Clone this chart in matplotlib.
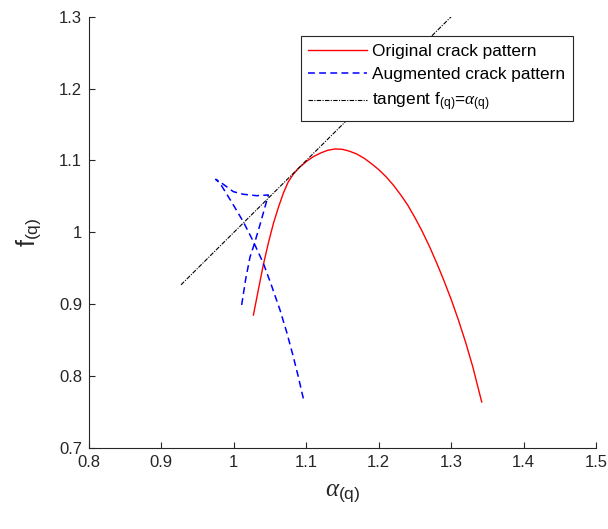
import matplotlib
matplotlib.use("Agg")
import matplotlib.pyplot as plt

plt.rcParams["font.family"] = ["Liberation Sans", "DejaVu Sans"]
plt.rcParams["mathtext.fontset"] = "custom"
plt.rcParams["mathtext.rm"] = "Liberation Sans"
plt.rcParams["mathtext.it"] = "Liberation Serif:italic"
plt.rcParams["mathtext.bf"] = "Liberation Sans:bold"

# Multifractal spectrum of the original crack pattern
orig_alpha = [1.027, 1.034, 1.0407, 1.0476, 1.0545, 1.0614, 1.0683, 1.075,
              1.082, 1.090, 1.100, 1.110, 1.120, 1.130, 1.140, 1.150, 1.160,
              1.170, 1.180, 1.190, 1.200, 1.210, 1.220, 1.230, 1.240, 1.250,
              1.260, 1.270, 1.280, 1.290, 1.300, 1.310, 1.320, 1.330, 1.3422]
orig_f = [0.885, 0.921, 0.955, 0.985, 1.012, 1.0345, 1.0545, 1.0700,
          1.0808, 1.0898, 1.0985, 1.1055, 1.1105, 1.1143, 1.1160, 1.1155, 1.1128,
          1.1088, 1.1030, 1.0955, 1.0873, 1.0775, 1.0660, 1.0527, 1.0380, 1.0205,
          1.0015, 0.9805, 0.9575, 0.9330, 0.9068, 0.8782, 0.8470, 0.8125, 0.7640]

# Spectrum of the augmented crack pattern (swallowtail shape)
aug_alpha = [1.0108, 1.0161, 1.0223, 1.0278, 1.0368, 1.0476,
             1.0315, 1.013, 0.9993, 0.9854, 0.975,
             0.9809, 0.997, 1.013, 1.027, 1.0407, 1.052, 1.0637, 1.073,
             1.0821, 1.089, 1.0959]
aug_f = [0.899, 0.9337, 0.9657, 0.9824, 1.013, 1.052,
         1.051, 1.053, 1.0566, 1.0669, 1.0738,
         1.0683, 1.042, 1.0148, 0.987, 0.957, 0.926, 0.892, 0.861,
         0.827, 0.799, 0.769]

# Tangent line f(q) = alpha(q)
tangent_alpha = [0.927, 1.300]
tangent_f = [0.927, 1.300]

x_ticks = [0.8, 0.9, 1.0, 1.1, 1.2, 1.3, 1.4, 1.5]
x_ticklabels = ["0.8", "0.9", "1", "1.1", "1.2", "1.3", "1.4", "1.5"]
y_ticks = [0.7, 0.8, 0.9, 1.0, 1.1, 1.2, 1.3]
y_ticklabels = ["0.7", "0.8", "0.9", "1", "1.1", "1.2", "1.3"]

fig = plt.figure(figsize=(6.08, 5.29), dpi=100)
ax = fig.add_axes([89 / 608, 1 - 448 / 529, (596 - 89) / 608, (448 - 16.7) / 529])

ax.plot(orig_alpha, orig_f, color="#ff0000", lw=1.0,
        label="Original crack pattern")
ax.plot(aug_alpha, aug_f, color="#0000ff", lw=1.1, linestyle=(0, (4.5, 2.8)),
        label="Augmented crack pattern")
ax.plot(tangent_alpha, tangent_f, color="black", lw=0.8,
        linestyle=(0, (4, 1.2, 1, 1.2)),
        label=r"tangent f$_{\mathrm{(q)}}$=$\alpha_{\mathrm{(q)}}$")

ax.set_xlim(0.8, 1.5)
ax.set_ylim(0.7, 1.3)
ax.set_xticks(x_ticks)
ax.set_xticklabels(x_ticklabels)
ax.set_yticks(y_ticks)
ax.set_yticklabels(y_ticklabels)

axis_grey = "#262626"
for side in ("top", "right"):
    ax.spines[side].set_visible(False)
for side in ("left", "bottom"):
    ax.spines[side].set_color(axis_grey)
    ax.spines[side].set_linewidth(0.8)
ax.tick_params(direction="in", length=4.5, width=0.8, colors=axis_grey,
               labelsize=12, labelcolor=axis_grey, pad=5)

ax.set_xlabel(r"$\alpha_{\mathrm{(q)}}$", fontsize=18, color=axis_grey, labelpad=8)
ax.set_ylabel(r"$\mathrm{f}_{\mathrm{(q)}}$", fontsize=18, color=axis_grey, labelpad=11)

leg = ax.legend(loc="upper right", bbox_to_anchor=(573 / 608, 1 - 36 / 529),
                bbox_transform=fig.transFigure, borderaxespad=0,
                fontsize=12.4, handlelength=3.4, handletextpad=0.3,
                labelspacing=0.5, borderpad=0.45, fancybox=False,
                framealpha=1, edgecolor="#262626")
leg.get_frame().set_linewidth(0.8)

fig.savefig("out.png", dpi=100)
